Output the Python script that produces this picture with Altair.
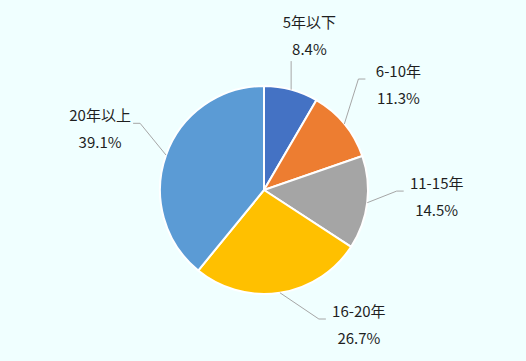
import altair as alt
import pandas as pd

# ---- data ----
categories = ["5年以下", "6-10年", "11-15年", "16-20年", "20年以上"]
shares = [8.4, 11.3, 14.5, 26.7, 39.1]
share_labels = ["8.4%", "11.3%", "14.5%", "26.7%", "39.1%"]
colors = ["#4472C4", "#ED7D31", "#A5A5A5", "#FFC000", "#5B9BD5"]

df = pd.DataFrame({
    "cat": categories,
    "value": shares,
    "pct": share_labels,
    "order": list(range(len(categories))),
})
df["label"] = df["cat"] + "\n" + df["pct"]

# ---- layout constants ----
W, H = 526, 361
CX, CY = 264, 190      # pie centre
R = 104                # pie radius
RL = 165               # circle radius used to detect / slide bottom labels
BOTTOM = 135           # max downward label offset (keeps labels inside)
RX, RY, C = 174, 148, -11   # elliptical label ring (x radius, y radius, y shift)
HW = 33                # half label width + gap
LH = 27                # line height of labels
FONT = "Noto Sans CJK JP"


def geom(chart):
    return (
        chart.transform_joinaggregate(total="sum(value)")
        .transform_window(cum="sum(value)", sort=[alt.SortField("order")], frame=[None, 0])
        .transform_calculate(a="2*PI*(datum.cum - datum.value/2)/datum.total")
        .transform_calculate(
            ex=f"{CX} + {R}*sin(datum.a)",
            ey=f"{CY} - {R}*cos(datum.a)",
            slide=f"-{RL}*cos(datum.a) > {BOTTOM}",
        )
        .transform_calculate(
            ldx=f"datum.slide ? (sin(datum.a) >= 0 ? 1 : -1)*sqrt({RL}*{RL} - {BOTTOM}*{BOTTOM}) : {RX}*sin(datum.a)",
            ldy=f"datum.slide ? {BOTTOM} : -{RY}*cos(datum.a) + ({C})",
        )
        .transform_calculate(
            lx=f"{CX} + datum.ldx",
            ly=f"{CY} + datum.ldy",
            top="abs(datum.ldx) < 50",
            s="datum.ldx >= 0 ? 1 : -1",
        )
        .transform_calculate(
            x2=f"datum.top ? datum.ex : datum.lx - datum.s*{HW}",
            y2="datum.top ? datum.ly + 25 : datum.ly - 6",
        )
        .transform_calculate(
            x1="datum.top ? datum.ex : datum.x2 - datum.s*7",
            y1="datum.y2",
        )
    )


pie = alt.Chart(df).mark_arc(outerRadius=R, stroke="white", strokeWidth=2).encode(
    theta=alt.Theta("value:Q", stack=True),
    color=alt.Color("cat:N", scale=alt.Scale(domain=categories, range=colors), legend=None),
    order=alt.Order("order:Q"),
    x=alt.value(CX),
    y=alt.value(CY),
)

lead1 = geom(alt.Chart(df)).mark_rule(color="#A6A6A6", strokeWidth=1).encode(
    x=alt.X("ex:Q", scale=None, axis=None),
    y=alt.Y("ey:Q", scale=None, axis=None),
    x2="x1:Q",
    y2="y1:Q",
)

lead2 = geom(alt.Chart(df)).mark_rule(color="#A6A6A6", strokeWidth=1).encode(
    x=alt.X("x1:Q", scale=None, axis=None),
    y=alt.Y("y1:Q", scale=None, axis=None),
    x2="x2:Q",
    y2="y2:Q",
)

text = geom(alt.Chart(df)).mark_text(
    font=FONT, fontSize=15, color="#1f1f1f", lineBreak="\n", lineHeight=LH,
    align="center", baseline="middle", dy=-LH / 2,
).encode(
    x=alt.X("lx:Q", scale=None, axis=None),
    y=alt.Y("ly:Q", scale=None, axis=None),
    text="label:N",
)

chart = (
    alt.layer(pie, lead1, lead2, text)
    .properties(width=W, height=H, padding=0, autosize="none", background="#F0FFFF")
    .configure_view(stroke=None)
)

chart.save("out.html", embed_options={"renderer": "svg", "actions": False})
